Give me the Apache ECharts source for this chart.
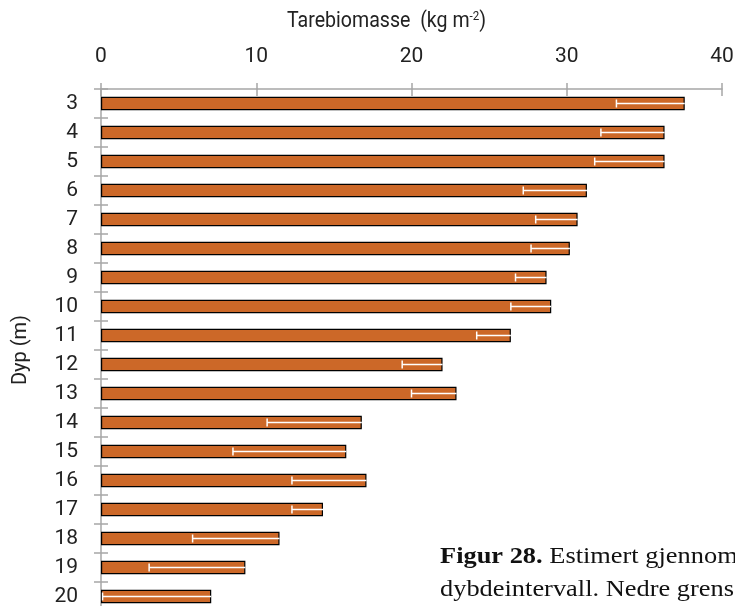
<!DOCTYPE html>
<html>
<head>
<meta charset="utf-8" />
<title>Tarebiomasse</title>
<script src="https://cdn.jsdelivr.net/npm/echarts@6/dist/echarts.min.js"></script>
<style>
  html, body { margin: 0; padding: 0; background: #fff; }
  #main { width: 735px; height: 606px; }
</style>
</head>
<body>
<div id="main"></div>
<script>
// dybde (m)
var depths = ['3', '4', '5', '6', '7', '8', '9', '10', '11', '12', '13', '14', '15', '16', '17', '18', '19', '20'];
// gjennomsnittlig tarebiomasse (kg m-2)
var biomass = [37.6, 36.3, 36.3, 31.3, 30.7, 30.2, 28.7, 29.0, 26.4, 22.0, 22.9, 16.8, 15.8, 17.1, 14.3, 11.5, 9.3, 7.1];
// nedre grense for feilstolpe
var lower = [33.2, 32.2, 31.8, 27.2, 28.0, 27.7, 26.7, 26.4, 24.2, 19.4, 20.0, 10.7, 8.5, 12.3, 12.3, 5.9, 3.1, 0.1];
var xTicks = [0, 10, 20, 30, 40];

var errData = depths.map(function (d, i) {
  return [i, lower[i], biomass[i]];
});

var axisGrey = '#a6a6a6';
var sans = 'Roboto, sans-serif';
var serif = '"Liberation Serif", serif';

var chart = echarts.init(document.getElementById('main'), null, { renderer: 'canvas' });

var option = {
  animation: false,
  grid: { left: 101, top: 89, width: 621, height: 522, outerBoundsMode: 'none' },
  xAxis: [{
    type: 'value',
    position: 'top',
    min: xTicks[0],
    max: xTicks[xTicks.length - 1],
    interval: 10,
    splitLine: { show: false },
    axisLine: { show: true, lineStyle: { color: axisGrey, width: 1.5 } },
    axisTick: { show: true, length: 6, lineStyle: { color: axisGrey, width: 1.5 } },
    axisLabel: { margin: 22, color: '#222', fontSize: 21, fontFamily: sans }
  }, {
    type: 'value',
    position: 'top',
    min: xTicks[0],
    max: xTicks[xTicks.length - 1],
    interval: 10,
    splitLine: { show: false },
    axisLine: { show: false },
    axisTick: { show: true, inside: true, length: 7, lineStyle: { color: axisGrey, width: 1.5 } },
    axisLabel: { show: false }
  }],
  yAxis: [{
    type: 'category',
    inverse: true,
    data: depths,
    name: 'Dyp (m)',
    nameLocation: 'middle',
    nameGap: 70,
    nameTextStyle: { color: '#222', fontSize: 20, fontFamily: sans },
    axisLine: { show: true, lineStyle: { color: axisGrey, width: 1.5 } },
    axisTick: { show: true, length: 7, lineStyle: { color: axisGrey, width: 1.5 } },
    axisLabel: { margin: 23, color: '#222', fontSize: 21, fontFamily: sans }
  }, {
    type: 'category',
    inverse: true,
    position: 'left',
    data: depths,
    axisLine: { show: false },
    axisTick: { show: true, inside: true, length: 7, lineStyle: { color: axisGrey, width: 1.5 } },
    axisLabel: { show: false }
  }],
  graphic: [{
    type: 'text',
    x: 287,
    y: 10,
    scaleX: 0.89,
    style: {
      text: 'Tarebiomasse  (kg m{sup|-2})',
      font: '22px Roboto, sans-serif',
      fill: '#222',
      rich: { sup: { fontSize: 13, verticalAlign: 'top', padding: [0, 0, 9, 0], fill: '#222', fontFamily: sans } }
    }
  }, {
    type: 'text',
    x: 440,
    y: 545,
    scaleX: 1.1,
    style: {
      text: '{b|Figur 28.} Estimert gjennomsnittlig tarebiomasse',
      fill: '#111',
      font: '24px ' + serif,
      rich: { b: { fontWeight: 'bold', fontSize: 24, fontFamily: serif, fill: '#111' } }
    }
  }, {
    type: 'text',
    x: 440,
    y: 578,
    scaleX: 1.1,
    style: {
      text: 'dybdeintervall. Nedre grense',
      fill: '#111',
      font: '24px ' + serif
    }
  }],
  series: [{
    type: 'bar',
    data: biomass,
    barCategoryGap: '54%',
    itemStyle: { color: '#cc6828', borderColor: '#000', borderWidth: 1.2 }
  }, {
    type: 'custom',
    data: errData,
    encode: { x: [1, 2], y: 0 },
    z: 5,
    renderItem: function (params, api) {
      var idx = api.value(0);
      var lo = api.coord([api.value(1), idx]);
      var hi = api.coord([api.value(2), idx]);
      var cap = 4;
      return {
        type: 'group',
        children: [{
          type: 'line',
          shape: { x1: lo[0], y1: lo[1], x2: hi[0], y2: hi[1] },
          style: { stroke: '#fff', lineWidth: 1.5 }
        }, {
          type: 'line',
          shape: { x1: lo[0], y1: lo[1] - cap, x2: lo[0], y2: lo[1] + cap },
          style: { stroke: '#fff', lineWidth: 1.5 }
        }]
      };
    }
  }]
};

chart.setOption(option);
</script>
</body>
</html>
